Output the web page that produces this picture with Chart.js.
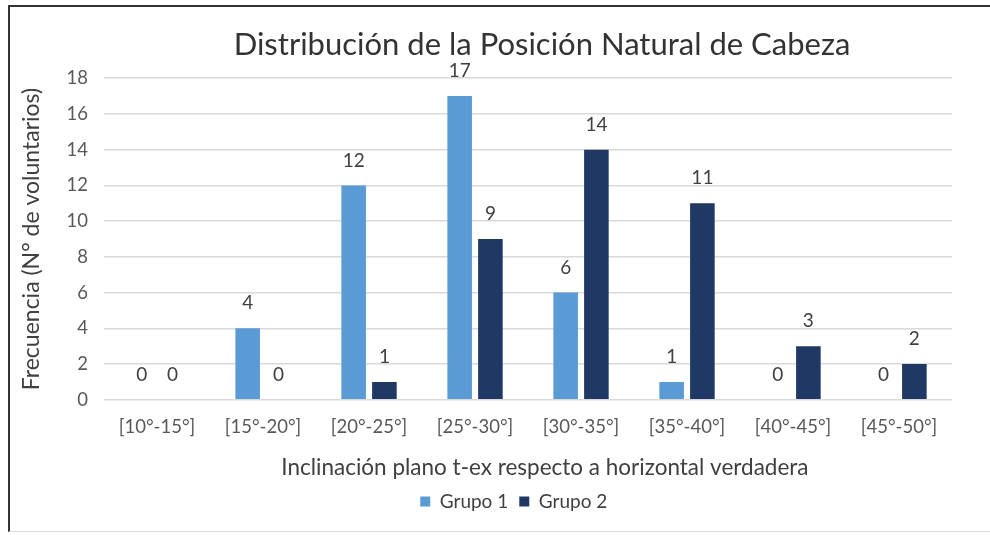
<!DOCTYPE html>
<html>
<head>
<meta charset="utf-8">
<script src="https://cdn.jsdelivr.net/npm/chart.js@4"></script>
<style>
  html, body { margin: 0; padding: 0; background: #fff; overflow: hidden; }
  #frame {
    position: absolute; left: 8px; top: 5px; width: 1100px; height: 524px;
    border-top: 2px solid #333; border-left: 2px solid #333; border-bottom: 1px solid #ddd;
  }
  #wrap { position: absolute; left: 0; top: 0; width: 1070px; height: 524px; }
</style>
</head>
<body>
<div id="frame"><div id="wrap"><canvas id="chart"></canvas></div></div>
<script>
// datos del gráfico
var categorias = ['[10°-15°]', '[15°-20°]', '[20°-25°]', '[25°-30°]', '[30°-35°]', '[35°-40°]', '[40°-45°]', '[45°-50°]'];
var grupo1 = [0, 4, 12, 17, 6, 1, 0, 0];
var grupo2 = [0, 0, 1, 9, 14, 11, 3, 2];
var yTicks = [0, 2, 4, 6, 8, 10, 12, 14, 16, 18];

var FONT = 'Lato, "Noto Sans", sans-serif';

// etiquetas de valor encima de cada barra
var valueLabels = {
    id: 'valueLabels',
    afterDatasetsDraw: function(chart) {
        var ctx = chart.ctx;
        ctx.save();
        ctx.font = '19px ' + FONT;
        ctx.fillStyle = '#404040';
        ctx.textAlign = 'center';
        ctx.textBaseline = 'middle';
        chart.data.datasets.forEach(function(ds, i) {
            chart.getDatasetMeta(i).data.forEach(function(bar, j) {
                ctx.fillText(ds.data[j], bar.x, bar.y - 25);
            });
        });
        ctx.restore();
    }
};

new Chart(document.getElementById('chart'), {
    type: 'bar',
    data: {
        labels: categorias,
        datasets: [{
            label: 'Grupo 1',
            data: grupo1,
            backgroundColor: '#5b9bd5',
            categoryPercentage: 0.58,
            barPercentage: 0.8
        }, {
            label: 'Grupo 2\u2003\u2003',
            data: grupo2,
            backgroundColor: '#203864',
            categoryPercentage: 0.58,
            barPercentage: 0.8
        }]
    },
    options: {
        responsive: true,
        maintainAspectRatio: false,
        animation: false,
        layout: { padding: { left: 8, right: 14, top: 0, bottom: 10 } },
        plugins: {
            title: {
                display: true,
                text: 'Distribución de la Posición Natural de Cabeza',
                color: '#333',
                font: { family: FONT, size: 31, weight: 'normal' },
                padding: { top: 19, bottom: 15 }
            },
            legend: {
                position: 'bottom',
                fullSize: false,
                labels: {
                    color: '#404040',
                    font: { family: FONT, size: 19 },
                    boxWidth: 10,
                    boxHeight: 10,
                    padding: 11
                }
            },
            tooltip: { enabled: false }
        },
        scales: {
            x: {
                grid: { display: false, drawTicks: false },
                border: { display: false },
                ticks: { color: '#595959', font: { family: FONT, size: 18.5 }, padding: 16, maxRotation: 0 },
                title: {
                    display: true,
                    text: '\u2003\u2003Inclinación plano t-ex respecto a horizontal verdadera',
                    color: '#404040',
                    font: { family: FONT, size: 22.5 },
                    padding: { top: 0, bottom: 0 }
                }
            },
            y: {
                min: 0,
                max: 18,
                afterBuildTicks: function(axis) {
                    axis.ticks = yTicks.map(function(v) { return { value: v }; });
                },
                grid: { color: '#d9d9d9', lineWidth: 1.5, drawTicks: false },
                border: { display: false },
                ticks: { color: '#595959', font: { family: FONT, size: 18.5 }, padding: 16 },
                title: {
                    display: true,
                    text: 'Frecuencia (N° de voluntarios)',
                    color: '#404040',
                    font: { family: FONT, size: 23 },
                    padding: { top: 0, bottom: 5 }
                }
            },
            // eje derecho vacío: sólo reserva el espacio que el gráfico original tiene a la derecha
            derecha: {
                type: 'linear',
                position: 'right',
                grid: { display: false, drawTicks: false },
                border: { display: false },
                ticks: { display: false },
                afterFit: function(axis) { axis.width = 114; }
            }
        }
    },
    plugins: [valueLabels]
});
</script>
</body>
</html>
